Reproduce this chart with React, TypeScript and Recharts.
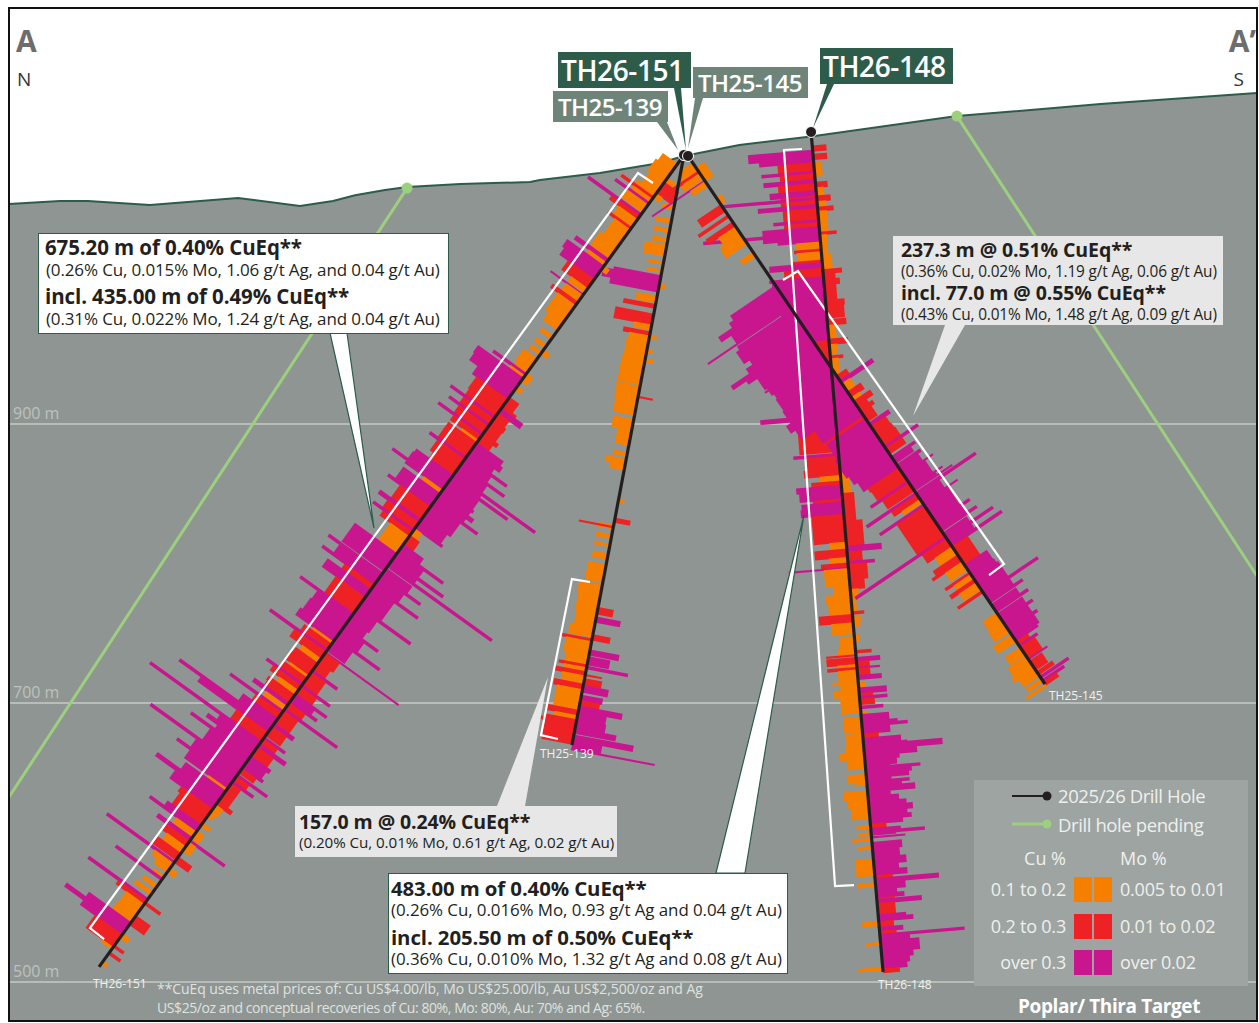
import { ComposedChart, Area, Line, XAxis, YAxis } from 'recharts';

type Row = [number, number, number];
type Pt = { x: number; z: number };

const W = 1259;
const H = 1023;
// section is drawn 1:1, 1.395 px to the metre
const PX_PER_M = 1.395;
const CU_M_PER_PCT = 93.2;
const MO_M_PER_PCT = 716.8;

const ORANGE = '#f77f00';
const RED = '#ee2124';
const MAGENTA = '#c9168f';
const INK = '#231f20';
const PINE = '#2d5c4b';
const SAGE = '#6f8479';
const GROUND = '#8f9592';
const PENDING = '#9ccf7e';
const FONT = '"Open Sans", sans-serif';

const TERRAIN: Pt[] = [
  { x: 6.5, z: 1057.7 }, { x: 43, z: 1059.8 }, { x: 63, z: 1059.8 }, { x: 107.5, z: 1057 }, { x: 170.6, z: 1062 },
  { x: 215, z: 1056.2 }, { x: 238.7, z: 1059.8 }, { x: 254.5, z: 1064 }, { x: 276, z: 1067.7 }, { x: 291.8, z: 1069.8 },
  { x: 330, z: 1072 }, { x: 380, z: 1073.4 }, { x: 387, z: 1074.8 }, { x: 430, z: 1079.9 }, { x: 473, z: 1087 },
  { x: 490.3, z: 1092.1 }, { x: 530, z: 1100 }, { x: 581.4, z: 1106 }, { x: 686, z: 1120.7 }, { x: 789, z: 1129.3 },
  { x: 901, z: 1137.2 },
];

const GRID_LEVELS = [900, 700, 500];
const GRID_LABELS = ['900 m', '700 m', '500 m'];
const GRID_SPAN = [6.5, 901];

const PENDING_A: Pt[] = [{ x: 291.8, z: 1069.1 }, { x: 6.5, z: 632.6 }];
const PENDING_B: Pt[] = [{ x: 686, z: 1120.7 }, { x: 901, z: 791 }];

const COLLAR_151: Pt = { x: 490.3, z: 1092.8 };
const TOE_151: Pt = { x: 71, z: 510.8 };
const COLLAR_139: Pt = { x: 490.3, z: 1092.8 };
const TOE_139: Pt = { x: 410, z: 669.9 };
const COLLAR_145: Pt = { x: 493.2, z: 1092.1 };
const TOE_145: Pt = { x: 749.1, z: 713.6 };
const COLLAR_148: Pt = { x: 581.4, z: 1109.3 };
const TOE_148: Pt = { x: 633, z: 507.2 };

const BRACKET_151: Pt[] = [{ x: 468.1, z: 1072.7 }, { x: 457.3, z: 1079.9 }, { x: 64.5, z: 538.7 }, { x: 74.6, z: 530.8 }];
const BRACKET_148: Pt[] = [{ x: 574.9, z: 1097.1 }, { x: 562, z: 1096.4 }, { x: 598.6, z: 568.8 }, { x: 612.2, z: 569.5 }];
const BRACKET_145: Pt[] = [{ x: 561.3, z: 1003.2 }, { x: 572, z: 1009.6 }, { x: 719.7, z: 799.6 }, { x: 709, z: 791.7 }];
const BRACKET_139: Pt[] = [{ x: 422.9, z: 786.7 }, { x: 410, z: 788.8 }, { x: 387.8, z: 677 }, { x: 400, z: 674.2 }];

// assays: from (m), to (m), grade (%)
const TH151_CU: Row[] = [
  [8,14,.14],[14,24,.16],[24,34,.14],[34,37,.18],[37,39,.30],[39,42,.18],[42,44,.32],[44,51,.20],[52,54,.50],[54,57,.27],[57,64,.18],[64,66,.22],
  [66,80,.15],[80,92,.18],[92,95,.31],[95,98,.17],[98,104,.35],[104,110,.33],[110,118,.25],[118,122,.16],[123,124,.31],[124,130,.16],[130,133,.24],
  [133,148,.17],[148,155,.14],[160,163,.11],[168,171,.10],[174,177,.10],[180,190,.13],[190,193,.12],[193,195,.31],[195,197,.14],[197,203,.43],
  [203,209,.42],[209,216,.34],[216,226,.30],[226,231,.29],[231,233,.42],[233,238,.29],[238,240,.38],[240,246,.28],[246,248,.42],[248,252,.27],
  [252,254,.16],[254,260,.27],[260,267,.27],[267,269,.34],[269,278,.26],[278,283,.23],[283,286,.35],[286,292,.36],[292,294,.50],[294,296,.36],
  [296,299,.18],[299,309,.35],[309,311,.41],[311,322,.29],[322,325,.39],[325,331,.30],[331,333,.38],[333,337,.28],[337,352,.18],[352,368,.40],
  [369,371,.51],[371,378,.40],[378,380,.50],[380,384,.28],[384,391,.41],[391,405,.28],[405,407,.50],[407,414,.33],[414,424,.34],[424,430,.36],
  [430,432,.19],[432,437,.26],[437,439,.54],[439,445,.30],[445,449,.18],[449,453,.21],[453,460,.23],[460,462,.18],[462,467,.23],[467,469,.34],
  [469,473,.27],[473,477,.18],[477,480,.25],[480,484,.24],[484,487,.33],[487,491,.20],[491,493,.50],[493,498,.25],[498,504,.33],[504,506,.88],
  [506,510,.67],[510,518,.30],[518,520,1.05],[520,524,.38],[524,527,.46],[527,530,.35],[530,532,.57],[532,542,.38],[542,544,.86],[544,551,.42],
  [551,553,.54],[553,560,.41],[560,562,.18],[562,568,.38],[568,571,.60],[571,578,.41],[578,582,.30],[582,592,.28],[592,596,.32],[596,598,.45],
  [598,603,.19],[603,606,.32],[606,611,.22],[611,617,.18],[617,623,.22],[624,626,.64],[626,630,.18],[630,634,.13],[637,639,.10],[639,641,.44],
  [645,648,.13],[651,654,.16],[657,659,.56],[659,662,.27],[662,672,.17],[672,678,.18],[678,682,.40],[682,685,.58],[685,689,.40],[689,700,.26],[700,702,.10],
];
const TH151_MO: Row[] = [
  [20,24,.010],[24,34,.018],[34,38,.008],[98,102,.007],[172,176,.008],[193,200,.008],[204,208,.007],[214,222,.012],[222,224,.017],[224,228,.027],
  [228,234,.014],[234,238,.016],[238,246,.015],[246,249,.019],[249,254,.015],[254,258,.033],[258,262,.036],[262,266,.030],[266,268,.050],[268,273,.032],
  [273,275,.054],[275,281,.034],[281,283,.10],[283,285,.035],[285,287,.07],[287,295,.036],[295,297,.038],[297,300,.036],[300,303,.043],[303,306,.036],
  [306,308,.054],[308,320,.034],[320,328,.030],[328,330,.033],[330,336,.009],[336,344,.012],[344,349,.025],[349,351,.055],[351,357,.032],[357,359,.063],
  [359,362,.032],[362,364,.128],[365,371,.032],[371,373,.049],[373,380,.030],[380,382,.055],[382,398,.027],[398,400,.064],[400,410,.024],[410,416,.022],
  [416,418,.042],[418,426,.026],[426,428,.054],[428,438,.022],[439,440,.09],[440,448,.018],[448,455,.015],[455,457,.031],[457,468,.018],[468,470,.035],
  [470,476,.02],[476,478,.039],[478,482,.025],[482,484,.033],[484,489,.02],[489,491,.065],[491,502,.018],[502,505,.025],[505,513,.018],[514,516,.026],
  [516,520,.018],[520,523,.033],[523,531,.02],[531,534,.025],[534,540,.022],[540,542,.025],[542,546,.018],[547,549,.037],[549,553,.016],[553,555,.026],
  [555,571,.012],[571,574,.018],[574,581,.009],[581,585,.006],[590,593,.01],[597,604,.009],[605,607,.043],[607,615,.009],[620,625,.017],[630,634,.009],
  [660,662,.019],[672,680,.018],[688,692,.009],[698,700,.012],[704,706,.014],[712,715,.006],
];

const TH139_CU: Row[] = [
  [37,40,.10],[47,50,.12],[54,57,.12],[61,64,.12],[66,74,.17],[78,80,.13],[84,86,.12],[88,90,.37],[90,96,.45],[96,100,.38],[103,108,.16],[109,112,.25],
  [116,124,.30],[124,128,.14],[129,132,.21],[132,137,.16],[137,150,.17],[150,168,.18],[169,170,.19],[170,180,.18],[180,190,.17],[193,201,.16],[201,212,.11],
  [217,220,.11],[222,226,.16],[226,230,.12],[270,273,.12],[271,272,.27],[277,280,.12],[284,286,.13],[291,295,.12],[299,312,.14],[314,322,.18],[322,335,.17],
  [335,345,.16],[345,352,.19],[353,355,.24],[355,365,.20],[365,372,.18],[372,374,.22],[374,377,.18],[377,380,.24],[380,386,.18],[386,390,.23],[390,405,.20],
  [405,409,.24],[409,412,.18],[412,414,.24],[414,416,.30],[416,430,.24],
];
const TH139_MO: Row[] = [
  [94,97,.006],[132,134,.008],[142,144,.006],[149,151,.009],[176,177,.015],[251,254,.006],[265,268,.016],[330,335,.016],[337,341,.025],[350,354,.018],
  [361,365,.03],[366,372,.022],[373,375,.042],[379,380,.017],[382,387,.018],[387,392,.026],[394,398,.022],[398,402,.02],[402,406,.044],[406,412,.029],
  [412,418,.03],[418,422,.042],[423,427,.061],[427,433,.03],[433,434,.085],
];

const TH148_CU: Row[] = [
  [13,19,.50],[19,22,.42],[22,28,.28],[28,30,.41],[30,34,.27],[34,37,.40],[37,42,.29],[42,46,.36],[46,47,.28],[47,49,.76],[49,52,.28],[52,55,.46],[55,63,.27],
  [63,65,.35],[65,68,.27],[68,72,.44],[72,74,.90],[74,77,.44],[77,79,.33],[79,84,.19],[84,86,.21],[86,92,.19],[92,94,.24],[94,98,.41],[98,104,.30],[104,106,.42],
  [106,116,.40],[116,150,.35],[150,202,.30],[203,206,.58],[206,230,.30],[231,233,.35],[233,242,.25],[242,247,.28],[247,251,.16],[251,254,.23],[254,258,.35],
  [258,264,.33],[264,266,.23],[266,270,.32],[270,275,.33],[275,295,.25],[295,300,.13],[300,306,.25],[306,310,.14],[310,313,.21],[313,314,.46],[314,326,.19],
  [326,333,.13],[333,338,.20],[338,345,.18],[345,347,.18],[347,353,.26],[353,361,.17],[363,372,.12],[372,376,.14],[376,377,.23],[378,383,.23],[383,385,.15],
  [385,387,.23],[387,395,.15],[395,397,.20],[397,401,.14],[401,406,.20],[406,418,.15],[421,432,.14],[433,440,.13],[440,446,.14],[446,451,.19],[451,458,.14],
  [462,468,.15],[469,470,.10],[474,480,.19],[480,486,.16],[486,494,.14],[499,501,.11],[504,506,.10],[508,510,.15],[514,516,.11],[523,535,.14],[540,543,.14],
  [568,571,.13],[583,585,.12],[601,603,.19],
];
const TH148_MO: Row[] = [
  [10,14,.014],[16,20,.014],[22,32,.008],[36,40,.012],[40,46,.008],[46,50,.014],[50,54,.009],[54,57,.016],[57,72,.009],[72,74,.017],[74,88,.007],[88,99,.010],
  [99,102,.019],[102,106,.012],[106,110,.016],[110,121,.012],[121,125,.019],[125,134,.018],[135,139,.019],[139,148,.008],[149,153,.019],[153,160,.008],
  [161,163,.013],[163,250,.008],[250,260,.009],[260,280,.012],[280,298,.018],[298,302,.035],[302,309,.015],[309,311,.027],[311,322,.019],[322,329,.015],
  [329,337,.008],[337,345,.005],[345,347,.012],[349,352,.008],[353,356,.007],[362,367,.005],[373,375,.016],[378,381,.024],[381,385,.013],[385,386,.023],
  [386,391,.013],[391,394,.024],[396,400,.007],[400,404,.028],[404,406,.014],[406,408,.028],[408,412,.015],[413,415,.023],[417,419,.007],[419,424,.028],
  [424,426,.036],[426,428,.046],[428,433,.028],[433,436,.016],[436,440,.038],[440,441,.044],[441,445,.079],[445,449,.053],[449,452,.035],[452,456,.032],
  [456,457,.025],[457,459,.055],[459,462,.046],[462,465,.043],[465,467,.025],[467,469,.043],[469,471,.035],[471,475,.048],[475,478,.023],[478,482,.031],
  [482,485,.038],[485,489,.044],[489,492,.038],[492,495,.042],[495,498,.033],[498,501,.016],[501,503,.03],[503,505,.054],[505,506,.025],[507,508,.034],
  [511,516,.03],[516,522,.027],[522,527,.033],[527,531,.025],[531,535,.033],[535,537,.018],[537,540,.064],[540,545,.03],[545,548,.021],[548,551,.028],
  [551,552,.018],[552,555,.045],[555,563,.018],[563,565,.028],[565,568,.035],[568,572,.015],[572,575,.024],[575,577,.017],[577,579,.085],[579,582,.03],
  [582,590,.039],[590,594,.032],[594,598,.028],[598,602,.025],[602,605,.017],
];

const TH145_CU: Row[] = [
  [6,10,.12],[10,13,.15],[13,15,.29],[15,16,.15],[16,20,.18],[21,22,.49],[22,26,.14],[42,48,.22],[51,53,.28],[57,61,.25],[61,67,.16],[67,70,.19],[70,76,.20],
  [83,87,.12],[112,116,.42],[116,120,.46],[120,124,.59],[124,131,.50],[131,132,.77],[133,136,.51],[136,146,.54],[146,150,.49],[150,154,.55],[154,157,.72],
  [157,160,.60],[160,170,.52],[170,171,.50],[171,172,.53],[172,176,.50],[176,180,.48],[180,190,.49],[190,200,.50],[200,206,.54],[206,214,.50],[214,225,.38],
  [225,227,.29],[227,240,.36],[240,255,.38],[255,262,.36],[262,270,.33],[270,273,.29],[273,281,.28],[281,283,.35],[283,290,.25],[291,293,.46],[293,297,.24],
  [297,300,.17],[301,303,.41],[303,329,.26],[329,331,.84],[331,338,.23],[338,345,.16],[345,349,.23],[349,351,.27],[351,358,.16],[360,362,.23],[362,366,.16],
  [366,369,.23],[369,375,.16],[376,378,.23],[395,404,.13],[404,412,.14],[414,420,.17],[425,432,.14],[433,440,.17],[440,444,.19],[444,450,.15],[452,455,.14],[457,459,.18],
];
const TH145_MO: Row[] = [
  [10,22,.010],[36,42,.006],[190,194,.012],[194,197,.039],[197,204,.010],[204,209,.016],[209,212,.010],[212,216,.02],[216,219,.012],[219,222,.016],[222,230,.012],
  [231,234,.024],[234,240,.018],[240,244,.019],[244,251,.02],[251,253,.04],[253,258,.02],[260,262,.028],[262,266,.022],[267,269,.028],[269,275,.024],[275,276,.036],
  [276,286,.026],[286,287,.037],[287,289,.028],[289,290,.046],[291,293,.072],[293,300,.027],[300,301,.042],[301,316,.03],[316,318,.041],[318,323,.031],[323,325,.043],
  [326,330,.029],[330,332,.056],[332,336,.029],[336,338,.061],[338,354,.019],[354,362,.027],[362,365,.028],[365,378,.03],[378,380,.065],[380,385,.03],[385,387,.04],
  [388,393,.03],[393,395,.039],[396,401,.03],[401,403,.037],[403,409,.03],[409,411,.035],[411,418,.03],[418,420,.027],[420,423,.014],[423,425,.022],[425,435,.018],
  [435,436,.023],[437,445,.015],[446,449,.019],[450,452,.034],[453,455,.026],[455,458,.016],
];

const colorCu = (g: number) => (g > 0.3 ? MAGENTA : g > 0.2 ? RED : ORANGE);
const colorMo = (g: number) => (g > 0.02 ? MAGENTA : g > 0.01 ? RED : ORANGE);

// each assay becomes a two point line square to the hole trace
function assayLines(collar: Pt, toe: Pt, rows: Row[], mPerPct: number, side: number, color: (g: number) => string) {
  const len = Math.hypot(toe.x - collar.x, toe.z - collar.z);
  const ux = (toe.x - collar.x) / len;
  const uz = (toe.z - collar.z) / len;
  // normal that points towards the north end of the section
  const nx = -Math.abs(uz) * side;
  const nz = (ux * uz > 0 ? Math.abs(ux) : -Math.abs(ux)) * side;
  return rows.map(([from, to, g]) => {
    const mid = (from + to) / 2;
    const bx = collar.x + ux * mid;
    const bz = collar.z + uz * mid;
    const reach = g * mPerPct;
    return {
      // a little extra so that neighbouring intervals close up
      width: (to - from) * PX_PER_M + 0.7,
      stroke: color(g),
      data: [{ x: bx, z: bz }, { x: bx + nx * reach, z: bz + nz * reach }],
    };
  });
}

const HOLES = [
  { collar: COLLAR_139, toe: TOE_139, cu: TH139_CU, mo: TH139_MO },
  { collar: COLLAR_151, toe: TOE_151, cu: TH151_CU, mo: TH151_MO },
  { collar: COLLAR_148, toe: TOE_148, cu: TH148_CU, mo: TH148_MO },
  { collar: COLLAR_145, toe: TOE_145, cu: TH145_CU, mo: TH145_MO },
];

const BARS = HOLES.flatMap((h) => [
  ...assayLines(h.collar, h.toe, h.mo, MO_M_PER_PCT, -1, colorMo),
  ...assayLines(h.collar, h.toe, h.cu, CU_M_PER_PCT, 1, colorCu),
]);

const LEGEND_CU = ['0.1 to 0.2', '0.2 to 0.3', 'over 0.3'];
const LEGEND_MO = ['0.005 to 0.01', '0.01 to 0.02', 'over 0.02'];
const LEGEND_COLORS = [ORANGE, RED, MAGENTA];

function Txt({ x, y, size, color = '#231f20', weight = 400, right, spacing, children }: any) {
  const pos = right !== undefined ? { right: W - right } : { left: x };
  return (
    <div style={{ position: 'absolute', ...pos, top: y - size / 2, height: size, lineHeight: `${size}px`, fontSize: size, color, fontWeight: weight, whiteSpace: 'nowrap', letterSpacing: spacing }}>
      {children}
    </div>
  );
}

function Box({ x, y, w, h, fill, border }: any) {
  return <div style={{ position: 'absolute', left: x, top: y, width: w, height: h, background: fill, border: border ? `1.5px solid ${border}` : 'none', boxSizing: 'border-box' }} />;
}

export default function App() {
  return (
    <div style={{ position: 'absolute', left: 0, top: 0, width: W, height: H, background: '#fff', fontFamily: FONT, overflow: 'hidden' }}>
      <ComposedChart width={W} height={H} margin={{ top: 0, right: 0, bottom: 0, left: 0 }}>
        <XAxis dataKey="x" type="number" domain={[0, 902.5]} allowDataOverflow hide />
        <YAxis type="number" domain={[470.6, 1203.9]} allowDataOverflow hide />
        <Area data={TERRAIN} dataKey="z" type="linear" baseValue={472} stroke={PINE} strokeWidth={2} fill={GROUND} fillOpacity={1} isAnimationActive={false} dot={false} activeDot={false} />
        {GRID_LEVELS.map((lvl) => (
          <Line key={lvl} data={GRID_SPAN.map((x) => ({ x, z: lvl }))} dataKey="z" stroke="#c6cbc7" strokeWidth={1.5} dot={false} activeDot={false} isAnimationActive={false} />
        ))}
        <Line data={PENDING_A} dataKey="z" stroke={PENDING} strokeWidth={3} dot={false} activeDot={false} isAnimationActive={false} />
        <Line data={PENDING_B} dataKey="z" stroke={PENDING} strokeWidth={3} dot={false} activeDot={false} isAnimationActive={false} />
        <Line data={[PENDING_A[0]]} dataKey="z" stroke="none" dot={{ r: 5.5, fill: PENDING, stroke: 'none' }} activeDot={false} isAnimationActive={false} />
        <Line data={[PENDING_B[0]]} dataKey="z" stroke="none" dot={{ r: 5.5, fill: PENDING, stroke: 'none' }} activeDot={false} isAnimationActive={false} />
        {BARS.map((b, i) => (
          <Line key={i} data={b.data} dataKey="z" stroke={b.stroke} strokeWidth={b.width} dot={false} activeDot={false} isAnimationActive={false} />
        ))}
        {[BRACKET_151, BRACKET_148, BRACKET_145, BRACKET_139].map((pts, i) => (
          <Line key={i} data={pts} dataKey="z" stroke="#fff" strokeWidth={2.2} dot={false} activeDot={false} isAnimationActive={false} />
        ))}
        {HOLES.map((h, i) => (
          <Line key={i} data={[h.collar, h.toe]} dataKey="z" stroke={INK} strokeWidth={3.2} dot={false} activeDot={false} isAnimationActive={false} />
        ))}
        {HOLES.map((h, i) => (
          <Line key={i} data={[h.collar]} dataKey="z" stroke="none" dot={{ r: 5.5, fill: INK, stroke: '#fff', strokeWidth: 1 }} activeDot={false} isAnimationActive={false} />
        ))}
      </ComposedChart>

      <svg width={W} height={H} style={{ position: 'absolute', left: 0, top: 0 }}>
        <polygon points="330,333 347,333 374,528" fill="#fff" stroke={PINE} strokeWidth={1.2} />
        <polygon points="945,325 965,325 913,416" fill="#e6e7e6" />
        <polygon points="497,806 525,806 548,677" fill="#e6e7e6" />
        <polygon points="716,873 745,873 804,515" fill="#fff" stroke={PINE} strokeWidth={1.2} />
        <polygon points="674,88 681,88 686,150" fill={PINE} />
        <polygon points="657,122 667,122 678,150" fill={SAGE} />
        <polygon points="695,98 703,98 688,148" fill={SAGE} />
        <polygon points="827,84 834,84 813,128" fill={PINE} />
      </svg>

      <Box x={38} y={233} w={411} h={101} fill="#fff" border={PINE} />
      <Txt x={45} y={247} size={20.5} weight={700} spacing={-0.1}>675.20 m of 0.40% CuEq**</Txt>
      <Txt x={46} y={269} size={17} spacing={-0.14}>(0.26% Cu, 0.015% Mo, 1.06 g/t Ag, and 0.04 g/t Au)</Txt>
      <Txt x={45} y={296} size={20.5} weight={700} spacing={-0.1}>incl. 435.00 m of 0.49% CuEq**</Txt>
      <Txt x={46} y={318} size={17} spacing={-0.14}>(0.31% Cu, 0.022% Mo, 1.24 g/t Ag, and 0.04 g/t Au)</Txt>

      <Box x={893} y={236} w={330} h={89} fill="#e6e7e6" />
      <Txt x={901} y={250} size={19.5} weight={700} spacing={-0.1}>237.3 m @ 0.51% CuEq**</Txt>
      <Txt x={901} y={272} size={15.4} spacing={-0.15}>(0.36% Cu, 0.02% Mo, 1.19 g/t Ag, 0.06 g/t Au)</Txt>
      <Txt x={901} y={293} size={19.5} weight={700} spacing={-0.1}>incl. 77.0 m @ 0.55% CuEq**</Txt>
      <Txt x={901} y={315} size={15.4} spacing={-0.15}>(0.43% Cu, 0.01% Mo, 1.48 g/t Ag, 0.09 g/t Au)</Txt>

      <Box x={295} y={806} w={322} h={51} fill="#e6e7e6" />
      <Txt x={299} y={822} size={19.5} weight={700} spacing={-0.1}>157.0 m @ 0.24% CuEq**</Txt>
      <Txt x={299} y={843} size={15.2} spacing={-0.07}>(0.20% Cu, 0.01% Mo, 0.61 g/t Ag, 0.02 g/t Au)</Txt>

      <Box x={388} y={873} w={400} h={101} fill="#fff" border={PINE} />
      <Txt x={391} y={888} size={20.4} weight={700} spacing={-0.1}>483.00 m of 0.40% CuEq**</Txt>
      <Txt x={391} y={910} size={16.9} spacing={-0.06}>(0.26% Cu, 0.016% Mo, 0.93 g/t Ag and 0.04 g/t Au)</Txt>
      <Txt x={391} y={937} size={20.4} weight={700} spacing={-0.1}>incl. 205.50 m of 0.50% CuEq**</Txt>
      <Txt x={391} y={959} size={16.9} spacing={-0.06}>(0.36% Cu, 0.010% Mo, 1.32 g/t Ag and 0.08 g/t Au)</Txt>

      <Box x={558} y={52} w={133} h={36} fill={PINE} />
      <Txt x={561} y={70} size={28} color="#fff" weight={600} spacing={-0.4}>TH26-151</Txt>
      <Box x={553} y={91} w={115} h={31} fill={SAGE} />
      <Txt x={558} y={107} size={24} color="#fff" weight={600} spacing={-0.5}>TH25-139</Txt>
      <Box x={693} y={67} w={115} h={31} fill={SAGE} />
      <Txt x={698} y={83} size={24} color="#fff" weight={600} spacing={-0.5}>TH25-145</Txt>
      <Box x={820} y={48} w={133} h={36} fill={PINE} />
      <Txt x={823} y={66} size={28} color="#fff" weight={600} spacing={-0.4}>TH26-148</Txt>

      <Txt x={16} y={41} size={30} color="#6d6d6d" weight={700}>A</Txt>
      <Txt x={17} y={79} size={19} color="#333">N</Txt>
      <Txt right={1256} y={41} size={30} color="#6d6d6d" weight={700}>A’</Txt>
      <Txt right={1244} y={79} size={19} color="#333">S</Txt>

      {GRID_LABELS.map((t, i) => (
        <Txt key={t} x={13} y={[413, 692, 971][i]} size={16} color="#bdc2be">{t}</Txt>
      ))}

      <Txt x={93} y={984} size={12} color="#f0f2f0">TH26-151</Txt>
      <Txt x={540} y={754} size={12} color="#f0f2f0">TH25-139</Txt>
      <Txt x={1049} y={696} size={12} color="#f0f2f0">TH25-145</Txt>
      <Txt x={878} y={985} size={12} color="#f0f2f0">TH26-148</Txt>

      <Txt x={157} y={989} size={14} color="#dfe3e0" spacing={-0.07}>**CuEq uses metal prices of: Cu US$4.00/lb, Mo US$25.00/lb, Au US$2,500/oz and Ag</Txt>
      <Txt x={157} y={1008} size={14} color="#dfe3e0" spacing={-0.42}>US$25/oz and conceptual recoveries of Cu: 80%, Mo: 80%, Au: 70% and Ag: 65%.</Txt>

      <Box x={974} y={780} w={274} h={206} fill="#9ea4a1" />
      <svg width={W} height={H} style={{ position: 'absolute', left: 0, top: 0 }}>
        <line x1={1012} y1={796} x2={1046} y2={796} stroke={INK} strokeWidth={2} />
        <circle cx={1047} cy={796} r={4.5} fill={INK} />
        <line x1={1012} y1={824} x2={1046} y2={824} stroke={PENDING} strokeWidth={3} />
        <circle cx={1047} cy={824} r={4.5} fill={PENDING} />
      </svg>
      <Txt x={1058} y={796} size={18.5} color="#eef0ee" spacing={-0.42}>2025/26 Drill Hole</Txt>
      <Txt x={1058} y={825} size={18.5} color="#eef0ee" spacing={-0.4}>Drill hole pending</Txt>
      <Txt right={1066} y={858} size={18} color="#eef0ee">Cu %</Txt>
      <Txt x={1120} y={858} size={18} color="#eef0ee">Mo %</Txt>
      {LEGEND_COLORS.map((c, i) => {
        const y = [889, 926, 962][i];
        return (
          <div key={c}>
            <Txt right={1066} y={y} size={18} color="#eef0ee" spacing={-0.2}>{LEGEND_CU[i]}</Txt>
            <Box x={1074} y={y - 12} w={18} h={25} fill={c} />
            <Box x={1094} y={y - 12} w={18} h={25} fill={c} />
            <Txt x={1120} y={y} size={18} color="#eef0ee" spacing={-0.2}>{LEGEND_MO[i]}</Txt>
          </div>
        );
      })}
      <Txt x={1018} y={1006} size={19} color="#fff" weight={700} spacing={-0.4}>Poplar/ Thira Target</Txt>

      <div style={{ position: 'absolute', left: 8, top: 7, width: 1250, height: 1015, border: '2px solid #111', boxSizing: 'border-box' }} />
    </div>
  );
}
